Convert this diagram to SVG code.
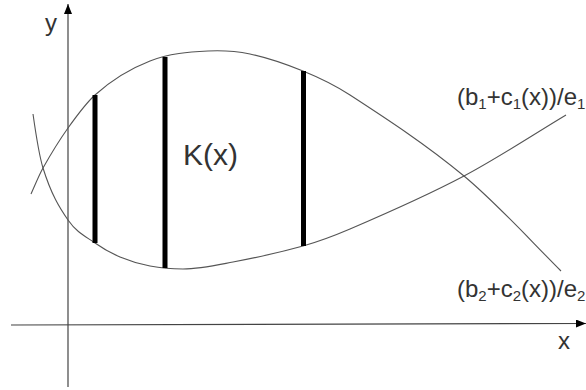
<svg xmlns="http://www.w3.org/2000/svg" width="586" height="390" viewBox="0 0 586 390">
<style>
  .axis { stroke: #444; stroke-width: 1.2; fill: none; }
  .curve { stroke: #555; stroke-width: 1.1; fill: none; }
  .bar { stroke: #000; stroke-width: 5; }
  text { font-family: "Liberation Sans", Arial, sans-serif; fill: #333; }
  .lbl { font-size: 24px; }
  .sub { font-size: 15px; }
</style>
<defs>
  <marker id="arrow" viewBox="0 0 10 8" refX="10" refY="4" markerWidth="10" markerHeight="8" markerUnits="userSpaceOnUse" orient="auto">
    <path d="M0,0 L10,4 L0,8 Z" fill="#000"/>
  </marker>
</defs>
<rect width="586" height="390" fill="#fff"/>
<g id="axes">
  <line class="axis" x1="68" y1="387" x2="68" y2="4" marker-end="url(#arrow)"/>
  <line class="axis" x1="11" y1="325" x2="586" y2="323.5" marker-end="url(#arrow)"/>
  <text class="lbl" x="45" y="31">y</text>
  <text class="lbl" x="558" y="349">x</text>
</g>
<g id="connectors">
  <path id="curve1" class="curve" d="M31,194 C35,185.2 39,175.1 43,168 C51.3,153.2 59.7,139.7 68,128 C77,115.4 86,103.1 95,95 C113.3,78.5 131.7,68.1 150,61 C169.3,53.5 188.7,52 208,51 C222,50.3 236,51.1 250,54 C267.7,57.7 285.3,63.8 303,71 C318.7,77.4 334.3,84.8 350,95 C388,119.7 426,144.5 464,176 C496.3,202.8 528.7,238.7 561,271"/>
  <path id="curve2" class="curve" d="M33,114 C36.3,137.3 39.7,157.3 43,168 C51.3,194.7 59.7,208 68,220 C77,233 86,236.6 95,243 C103.3,248.9 111.7,253.5 120,257 C130,261.2 140,264.1 150,266 C161,268.1 172,269 183,269 C199.7,269 216.3,265.2 233,262 C256.3,257.6 279.7,252.5 303,246 C318.7,241.6 334.3,235.7 350,229 C388,212.7 426,196.1 464,176 C498,158 532,135.4 566,115"/>
</g>
<g id="bars">
  <line class="bar" x1="95" y1="95" x2="95" y2="243"/>
  <line class="bar" x1="165" y1="57" x2="165" y2="268"/>
  <line class="bar" x1="303.5" y1="71" x2="303.5" y2="246"/>
</g>
<g id="label-K">
  <text x="183" y="165" font-size="30">K(x)</text>
</g>
<g id="label-top">
  <text class="lbl" x="457" y="105">(b<tspan class="sub" dy="4">1</tspan><tspan dy="-4">+c</tspan><tspan class="sub" dy="4">1</tspan><tspan dy="-4">(x))/e</tspan><tspan class="sub" dy="4">1</tspan></text>
</g>
<g id="label-bottom">
  <text class="lbl" x="457" y="297">(b<tspan class="sub" dy="4">2</tspan><tspan dy="-4">+c</tspan><tspan class="sub" dy="4">2</tspan><tspan dy="-4">(x))/e</tspan><tspan class="sub" dy="4">2</tspan></text>
</g>
</svg>
